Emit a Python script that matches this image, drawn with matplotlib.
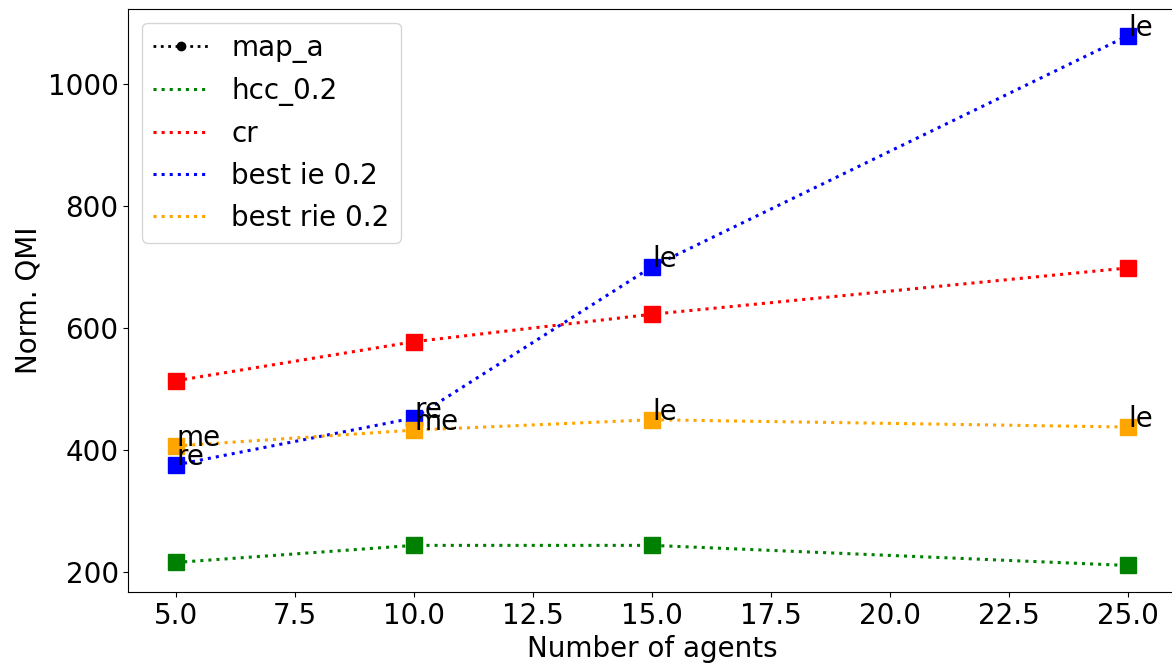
import numpy as np
import matplotlib.pyplot as plt

agents = [5, 10, 15, 25]

hcc = [216, 244, 244, 211]
cr = [514, 578, 623, 699]
best_ie = [376, 453, 701, 1080]
best_rie = [407, 433, 450, 438]

ie_labels = ['re', 're', 'le', 'le']
rie_labels = ['me', 'me', 'le', 'le']

plt.rcParams['font.size'] = 20

fig, ax = plt.subplots(figsize=(11.72, 6.63), dpi=100)

ax.plot([], [], ':o', color='black', markersize=6, linewidth=2, label='map_a')
ax.plot(agents, hcc, ':', color='green', linewidth=2.2, label='hcc_0.2')
ax.plot(agents, cr, ':', color='red', linewidth=2.2, label='cr')
ax.plot(agents, best_ie, ':', color='blue', linewidth=2.2, label='best ie 0.2')
ax.plot(agents, best_rie, ':', color='orange', linewidth=2.2, label='best rie 0.2')

for series, c in [(hcc, 'green'), (cr, 'red'), (best_ie, 'blue'), (best_rie, 'orange')]:
    ax.plot(agents, series, 's', color=c, markersize=11)

for x, y, t in zip(agents, best_ie, ie_labels):
    ax.text(x, y, t, fontsize=20)
for x, y, t in zip(agents, best_rie, rie_labels):
    ax.text(x, y, t, fontsize=20)

ax.set_xlabel('Number of agents')
ax.set_ylabel('Norm. QMI')
ax.set_xticks(np.arange(5, 25.1, 2.5))
ax.set_yticks([200, 400, 600, 800, 1000])
ax.legend(loc='upper left')

plt.subplots_adjust(left=0.1096, right=1.0034, top=0.9864, bottom=0.1071)
plt.savefig('out.png')
